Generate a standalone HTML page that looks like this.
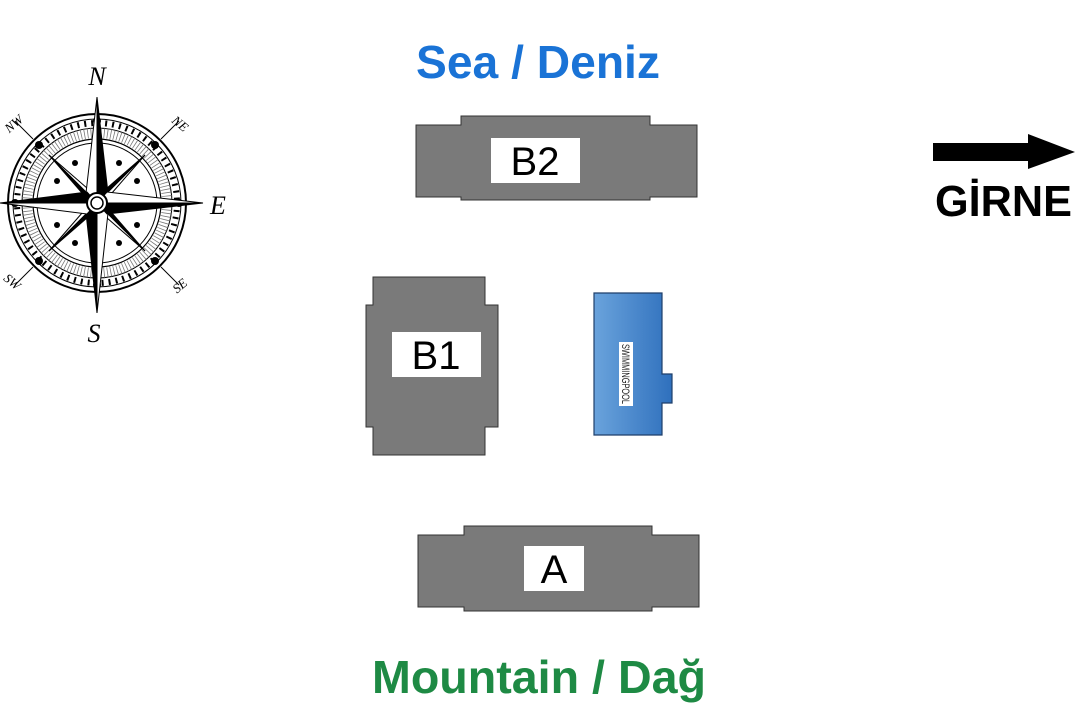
<!DOCTYPE html>
<html><head><meta charset="utf-8"><style>html,body{margin:0;padding:0;background:#fff;}svg{display:block}</style></head>
<body>
<svg width="1075" height="720" viewBox="0 0 1075 720" xmlns="http://www.w3.org/2000/svg">
<rect width="1075" height="720" fill="#fff"/>
<!-- Compass -->
<g transform="translate(97,203)" stroke="#000" fill="none">
  <line x1="-64" y1="-64" x2="-82" y2="-82" stroke-width="1"/>
  <line x1="64" y1="-64" x2="82" y2="-82" stroke-width="1"/>
  <line x1="-64" y1="64" x2="-82" y2="82" stroke-width="1"/>
  <line x1="64" y1="64" x2="82" y2="82" stroke-width="1"/>
  <circle r="89" stroke-width="2"/>
  <circle r="84" stroke-width="1"/>
  <circle r="80" stroke-width="6" stroke-dasharray="2 5"/>
  <circle r="75" stroke-width="1"/>
  <circle r="70" stroke="#777" stroke-width="10" stroke-dasharray="0.8 2.5"/>
  <circle r="64" stroke-width="1.2"/>
  <circle r="60" stroke-width="1"/>
  <g fill="#000" stroke="none">
    <circle cx="-22" cy="-40" r="3"/><circle cx="22" cy="-40" r="3"/><circle cx="-40" cy="-22" r="3"/><circle cx="40" cy="-22" r="3"/>
    <circle cx="-22" cy="40" r="3"/><circle cx="22" cy="40" r="3"/><circle cx="-40" cy="22" r="3"/><circle cx="40" cy="22" r="3"/>
    <circle cx="0" cy="-82" r="4"/><circle cx="0" cy="82" r="4"/><circle cx="-82" cy="0" r="4"/><circle cx="82" cy="0" r="4"/>
    <circle cx="-58" cy="-58" r="4"/><circle cx="58" cy="-58" r="4"/><circle cx="-58" cy="58" r="4"/><circle cx="58" cy="58" r="4"/>
  </g>
  <!-- diagonal points -->
  <g stroke-width="1">
    <polygon points="0,0 -48,-48 -8,-2" fill="#000"/><polygon points="0,0 -48,-48 -2,-8" fill="#fff"/>
    <polygon points="0,0 48,-48 8,-2" fill="#fff"/><polygon points="0,0 48,-48 2,-8" fill="#000"/>
    <polygon points="0,0 48,48 8,2" fill="#000"/><polygon points="0,0 48,48 2,8" fill="#fff"/>
    <polygon points="0,0 -48,48 -8,2" fill="#fff"/><polygon points="0,0 -48,48 -2,8" fill="#000"/>
  </g>
  <!-- main points -->
  <g stroke-width="1">
    <polygon points="0,-106 -11,-10 0,0" fill="#fff"/><polygon points="0,-106 11,-10 0,0" fill="#000"/>
    <polygon points="0,110 11,10 0,0" fill="#fff"/><polygon points="0,110 -11,10 0,0" fill="#000"/>
    <polygon points="106,0 10,11 0,0" fill="#000"/><polygon points="106,0 10,-11 0,0" fill="#fff"/>
    <polygon points="-97,0 -10,-11 0,0" fill="#000"/><polygon points="-97,0 -10,11 0,0" fill="#fff"/>
  </g>
  <circle r="10" fill="#fff" stroke-width="2"/>
  <circle r="6" fill="#fff" stroke-width="1.5"/>
</g>
<g font-family="Liberation Serif, serif" font-style="italic" fill="#000">
  <text x="97" y="85" font-size="26" text-anchor="middle">N</text>
  <text x="94" y="342" font-size="26" text-anchor="middle">S</text>
  <text x="218" y="214" font-size="26" text-anchor="middle">E</text>
  <text x="14" y="128" font-size="13" text-anchor="middle" transform="rotate(-40 14 124)">NW</text>
  <text x="180" y="128" font-size="13" text-anchor="middle" transform="rotate(40 180 124)">NE</text>
  <text x="12" y="286" font-size="13" text-anchor="middle" transform="rotate(40 12 282)">SW</text>
  <text x="180" y="290" font-size="13" text-anchor="middle" transform="rotate(-40 180 286)">SE</text>
</g>
<!-- Titles -->
<g font-family="Liberation Sans, sans-serif" font-weight="bold">
  <text x="416" y="78" font-size="46" fill="#1a73d6" textLength="244" lengthAdjust="spacingAndGlyphs">Sea / Deniz</text>
  <text x="372" y="693" font-size="46" fill="#1e8a44" textLength="334" lengthAdjust="spacingAndGlyphs">Mountain / Dağ</text>
  <text x="935" y="216" font-size="44" fill="#000" textLength="137" lengthAdjust="spacingAndGlyphs">GİRNE</text>
</g>
<!-- Arrow -->
<polygon points="933,143 1028,143 1028,134 1075,152 1028,169 1028,161 933,161" fill="#000"/>
<!-- B2 -->
<polygon points="416,125 461,125 461,116 650,116 650,125 697,125 697,197 650,197 650,200 461,200 461,197 416,197" fill="#7a7a7a" stroke="#333" stroke-width="1"/>
<rect x="491" y="138" width="89" height="45" fill="#fff"/>
<text x="535" y="175" font-family="Liberation Sans, sans-serif" font-size="40" text-anchor="middle" fill="#000">B2</text>
<!-- B1 -->
<polygon points="373,277 485,277 485,305 498,305 498,427 485,427 485,455 373,455 373,427 366,427 366,305 373,305" fill="#7a7a7a" stroke="#333" stroke-width="1"/>
<rect x="392" y="332" width="89" height="45" fill="#fff"/>
<text x="436" y="369" font-family="Liberation Sans, sans-serif" font-size="40" text-anchor="middle" fill="#000">B1</text>
<!-- Pool -->
<defs><linearGradient id="pg" x1="0" x2="1"><stop offset="0" stop-color="#6aa3dc"/><stop offset="1" stop-color="#2f70bd"/></linearGradient></defs>
<polygon points="594,293 662,293 662,374 672,374 672,403 662,403 662,435 594,435" fill="url(#pg)" stroke="#1f3f6a" stroke-width="1.2"/>
<rect x="619" y="342" width="14" height="64" fill="#fff"/>
<text transform="translate(622,374) rotate(90)" font-family="Liberation Sans, sans-serif" font-size="11" text-anchor="middle" fill="#222" textLength="60" lengthAdjust="spacingAndGlyphs">SWIMMINGPOOL</text>
<!-- A -->
<polygon points="418,535 464,535 464,526 652,526 652,535 699,535 699,607 652,607 652,611 464,611 464,607 418,607" fill="#7a7a7a" stroke="#333" stroke-width="1"/>
<rect x="524" y="546" width="60" height="45" fill="#fff"/>
<text x="554" y="583" font-family="Liberation Sans, sans-serif" font-size="40" text-anchor="middle" fill="#000">A</text>
</svg>
</body></html>
